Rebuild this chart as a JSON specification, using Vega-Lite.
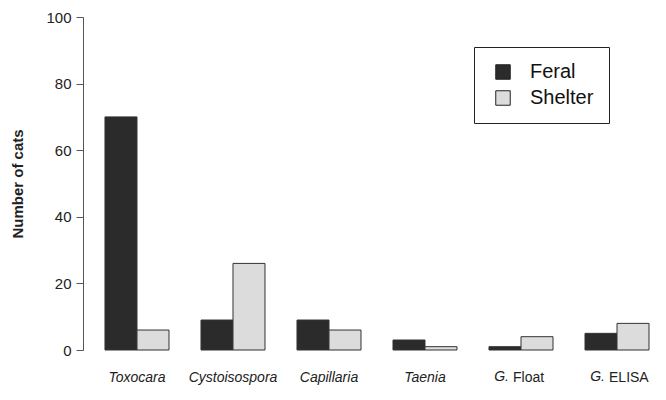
{
  "$schema": "https://vega.github.io/schema/vega-lite/v6.json",
  "width": 583,
  "height": 333,
  "autosize": {"type": "none"},
  "padding": {"left": 83, "top": 17, "right": 0, "bottom": 50},
  "background": "white",
  "config": {
    "font": "Liberation Sans",
    "view": {"stroke": null}
  },
  "data": {
    "values": [
      {"parasite": "Toxocara", "group": "Feral", "cats": 70},
      {"parasite": "Toxocara", "group": "Shelter", "cats": 6},
      {"parasite": "Cystoisospora", "group": "Feral", "cats": 9},
      {"parasite": "Cystoisospora", "group": "Shelter", "cats": 26},
      {"parasite": "Capillaria", "group": "Feral", "cats": 9},
      {"parasite": "Capillaria", "group": "Shelter", "cats": 6},
      {"parasite": "Taenia", "group": "Feral", "cats": 3},
      {"parasite": "Taenia", "group": "Shelter", "cats": 1},
      {"parasite": "G. Float", "group": "Feral", "cats": 1},
      {"parasite": "G. Float", "group": "Shelter", "cats": 4},
      {"parasite": "G. ELISA", "group": "Feral", "cats": 5},
      {"parasite": "G. ELISA", "group": "Shelter", "cats": 8}
    ]
  },
  "encoding": {
    "x": {
      "field": "parasite",
      "type": "nominal",
      "sort": ["Toxocara", "Cystoisospora", "Capillaria", "Taenia", "G. Float", "G. ELISA"],
      "scale": {"paddingInner": 0.3333, "paddingOuter": 0.203, "align": 0.564},
      "axis": {
        "title": null,
        "domain": false,
        "ticks": false,
        "labelAngle": 0,
        "labelPadding": 20,
        "labelFontSize": 14,
        "labelColor": "#222222",
        "labelExpr": "indexof(datum.value, 'G. ') === 0 ? substring(datum.value, 3) : datum.value",
        "labelAlign": {"condition": {"test": "indexof(datum.value, 'G. ') === 0", "value": "left"}, "value": "center"},
        "labelOffset": {"condition": {"test": "indexof(datum.value, 'G. ') === 0", "value": -8}, "value": 0},
        "labelFontStyle": {"condition": {"test": "indexof(datum.value, 'G. ') === 0", "value": "normal"}, "value": "italic"}
      }
    }
  },
  "layer": [
    {
      "mark": {"type": "bar", "stroke": "#333333", "strokeWidth": 1},
      "encoding": {
        "xOffset": {
          "field": "group",
          "type": "nominal",
          "sort": ["Feral", "Shelter"],
          "scale": {"paddingInner": 0, "paddingOuter": 0}
        },
        "y": {
          "field": "cats",
          "type": "quantitative",
          "scale": {"domain": [0, 100], "nice": false},
          "axis": {
            "title": "Number of cats",
            "titleFontSize": 15,
            "titleFontWeight": "bold",
            "titleColor": "#222222",
            "titlePadding": 20,
            "values": [0, 20, 40, 60, 80, 100],
            "grid": false,
            "domainColor": "#555555",
            "tickColor": "#555555",
            "tickSize": 7,
            "labelFontSize": 15,
            "labelColor": "#222222",
            "labelPadding": 5
          }
        },
        "fill": {
          "field": "group",
          "type": "nominal",
          "sort": ["Feral", "Shelter"],
          "scale": {"domain": ["Feral", "Shelter"], "range": ["#2b2b2b", "#dcdcdc"]},
          "legend": {
            "title": null,
            "orient": "none",
            "legendX": 391,
            "legendY": 30,
            "padding": 15,
            "strokeColor": "#222222",
            "fillColor": "white",
            "symbolType": "square",
            "symbolSize": 210,
            "symbolStrokeColor": "#222222",
            "symbolStrokeWidth": 1,
            "labelFontSize": 20,
            "labelColor": "#111111",
            "labelOffset": 17,
            "rowPadding": 6,
            "symbolOffset": 4
          }
        }
      }
    },
    {
      "transform": [
        {"filter": "datum.group === 'Feral' && indexof(datum.parasite, 'G. ') === 0"}
      ],
      "mark": {
        "type": "text",
        "align": "right",
        "baseline": "top",
        "dx": -12,
        "dy": 20,
        "fontSize": 14,
        "fontStyle": "italic",
        "color": "#222222"
      },
      "encoding": {
        "y": {"datum": 0, "type": "quantitative"},
        "text": {"value": "G."}
      }
    }
  ]
}
